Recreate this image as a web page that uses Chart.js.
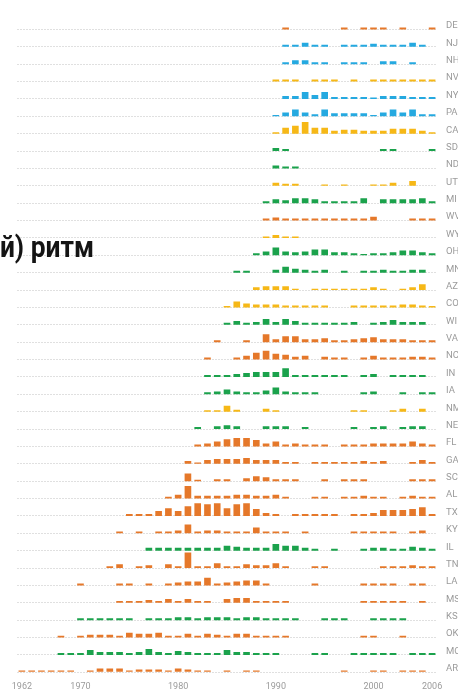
<!DOCTYPE html>
<html>
<head>
<meta charset="utf-8">
<script src="https://cdn.jsdelivr.net/npm/chart.js@4.4.1/dist/chart.umd.min.js"></script>
<style>
  html, body { margin: 0; padding: 0; background: #fff; }
  #wrap { width: 458px; height: 694px; position: relative; overflow: hidden; }
</style>
</head>
<body>
<div id="wrap"><canvas id="c"></canvas></div>
<script>
// ---- categories (visible year slots) ----
const firstYear = 1964, lastYear = 2006;
const years = [];
for (let y = firstYear; y <= lastYear; y++) years.push(y);

// x-axis tick labels as printed, and the slot each one sits under
const axisLabels = ['1962', '1970', '1980', '1990', '2000', '2006'];
const axisLabelSlots = [1964, 1970, 1980, 1990, 2000, 2006];

// title fragment visible in the crop
const titleText = 'й) ритм';

// rows, top to bottom
const states = ['DE','NJ','NH','NV','NY','PA','CA','SD','ND','UT','MI','WV','WY','OH','MN','AZ','CO','WI','VA','NC','IN','IA','NM','NE','FL','GA','SC','AL','TX','KY','IL','TN','LA','MS','KS','OK','MO','AR'];
const regionOf = {
  DE:'S', NJ:'NE', NH:'NE', NV:'W', NY:'NE', PA:'NE', CA:'W', SD:'MW', ND:'MW', UT:'W', MI:'MW', WV:'S', WY:'W',
  OH:'MW', MN:'MW', AZ:'W', CO:'W', WI:'MW', VA:'S', NC:'S', IN:'MW', IA:'MW', NM:'W', NE:'MW', FL:'S', GA:'S',
  SC:'S', AL:'S', TX:'S', KY:'S', IL:'MW', TN:'S', LA:'S', MS:'S', KS:'MW', OK:'S', MO:'MW', AR:'S'
};

// ---- values per state: [year, relative height] ----
const DE = [[1991,1],[1997,1],[1999,1],[2000,1],[2001,1],[2003,1],[2006,1]];
const NJ = [[1991,1],[1992,1],[1993,2],[1994,1],[1995,1],[1997,1],[1998,1],[1999,1],[2000,1.5],[2001,1],[2002,1],[2003,1],[2004,2],[2005,1]];
const NH = [[1991,1],[1992,2],[1993,2],[1994,1],[1995,1],[1997,1],[1998,1],[1999,1],[2001,1.5],[2002,1.5],[2004,1]];
const NV = [[1990,1],[1991,1],[1992,1],[1994,1],[1995,1],[1996,1],[1998,1],[2000,1],[2001,1],[2002,1],[2003,1],[2004,1],[2005,1],[2006,1]];
const NY = [[1991,1.5],[1992,1.5],[1993,3.5],[1994,2],[1995,3.5],[1996,1],[1997,1],[1998,1],[1999,1],[2000,0.7],[2001,1.5],[2002,1.5],[2003,1.5],[2004,1],[2005,1],[2006,1]];
const PA = [[1990,0.7],[1991,2],[1992,3.5],[1993,2],[1994,1],[1995,3.5],[1996,1.5],[1997,1.5],[1998,1.5],[1999,1.5],[2000,0.7],[2001,2],[2002,3.5],[2003,2],[2004,3.5],[2005,1],[2006,1]];
const CA = [[1990,0.7],[1991,3],[1992,4],[1993,6],[1994,3],[1995,3],[1996,1.5],[1997,2],[1998,2],[1999,1.5],[2000,1.5],[2001,1.5],[2002,2.5],[2003,2.5],[2004,2.5],[2005,1.5],[2006,0.7]];
const SD = [[1990,1.5],[1991,1],[2001,1],[2002,1],[2006,1]];
const ND = [[1990,1.5],[1991,1],[1992,1]];
const UT = [[1990,1.5],[1991,1],[1992,1],[1995,0.7],[1997,0.7],[2000,0.7],[2001,0.7],[2002,1.5],[2004,2.5]];
const MI = [[1989,1],[1990,2],[1991,1.5],[1992,2.5],[1993,2.5],[1994,2],[1995,1],[1996,1],[1997,1],[1998,1],[1999,2.5],[2001,2],[2002,2],[2003,2],[2004,2],[2005,2.5],[2006,1]];
const WV = [[1989,1],[1990,1.5],[1991,1],[1992,1],[1993,1],[1994,1],[1995,1],[1996,1],[1997,1],[1998,1],[1999,1],[2000,2],[2004,1],[2005,1],[2006,1]];
const WY = [[1989,0.7],[1990,1.5],[1991,0.7],[1992,0.7]];
const OH = [[1988,1],[1989,2],[1990,4],[1991,2],[1992,1.5],[1993,2],[1994,3],[1995,3],[1996,1.5],[1997,1.5],[1998,1],[1999,0.7],[2000,1],[2001,1],[2002,1.5],[2003,2.5],[2004,2.5],[2005,1.5],[2006,1]];
const MN = [[1986,1],[1987,1],[1990,1.5],[1991,3],[1992,2],[1993,1.5],[1994,1],[1995,1.5],[1997,1],[1999,1],[2000,1],[2001,1.5],[2002,1],[2003,1],[2004,1.5],[2005,1.5]];
const AZ = [[1988,1.5],[1989,2],[1990,2],[1991,2],[1992,0.7],[1994,0.7],[1995,0.7],[1996,0.7],[1997,0.7],[1998,0.7],[1999,0.7],[2000,1.5],[2001,0.7],[2003,0.7],[2004,1.5],[2005,3]];
const CO = [[1985,0.7],[1986,3],[1987,2],[1988,1.5],[1989,1.5],[1990,1.5],[1991,1],[1992,1],[1993,1],[1994,1],[1995,1],[1998,1],[1999,1],[2000,1],[2001,1],[2002,1],[2003,1.5],[2004,1.5],[2005,1],[2006,0.7]];
const WI = [[1985,1],[1986,2],[1987,1],[1988,1.5],[1989,3],[1990,1.5],[1991,3],[1992,2],[1993,1],[1994,1],[1995,1],[1996,1],[1997,1],[1998,1.5],[2000,1],[2001,1.5],[2002,2.5],[2003,1.5],[2004,1.5],[2005,1.5]];
const VA = [[1984,1],[1987,1],[1989,4],[1990,1.5],[1991,3],[1992,3],[1993,1.5],[1994,1.5],[1995,2],[1996,1],[1997,1],[1998,1.5],[1999,2],[2000,2.5],[2001,1.5],[2002,1.5],[2003,1.5],[2004,1],[2005,1],[2006,1]];
const NC = [[1983,1],[1986,1],[1987,2],[1988,3.5],[1989,4.5],[1990,3],[1991,2.5],[1992,1.5],[1993,2],[1995,1.5],[1996,1],[1997,1],[1999,1],[2000,2],[2001,1],[2002,1],[2003,1],[2004,1.5],[2005,1.5],[2006,1]];
const IN = [[1983,1],[1984,1],[1985,1],[1986,1.5],[1987,2],[1988,2.5],[1989,2.5],[1990,2.5],[1991,4.5],[1992,1],[1993,1],[1994,1],[1995,1],[1996,1],[1997,1],[1999,1],[2000,1.5],[2002,1],[2003,1],[2004,1],[2005,1]];
const IA = [[1983,1],[1984,1.5],[1985,2.5],[1986,1.5],[1987,1],[1988,1],[1989,2],[1990,3.5],[1991,1.5],[1992,1],[1993,1],[1994,1],[1999,1],[2000,1.5],[2003,1],[2005,1],[2006,1]];
const NM = [[1983,0.7],[1984,0.7],[1985,3],[1986,1],[1989,1.5],[1990,0.7],[1998,0.7],[1999,0.7],[2002,0.7],[2003,1.5],[2005,1.5]];
const NE = [[1982,1],[1984,1.5],[1985,2],[1986,1.5],[1989,1.5],[1990,1.5],[1991,1.5],[1993,1],[1998,1],[2000,1],[2001,1.5],[2003,1],[2004,1.5],[2005,1.5]];
const FL = [[1982,1],[1983,1.5],[1984,2.5],[1985,3.7],[1986,4.3],[1987,4.3],[1988,3.3],[1989,1.5],[1990,2.5],[1991,1],[1992,1.5],[1993,1],[1994,1],[1995,1],[1997,1],[1998,1],[1999,1],[2000,1.5],[2001,1.5],[2002,1.5],[2003,1.5],[2004,2.5],[2005,1.5],[2006,1]];
const GA = [[1981,1.5],[1982,0.7],[1983,2],[1984,2.5],[1985,2.5],[1986,2.5],[1987,3],[1988,2],[1989,2],[1990,2],[1991,1],[1992,1],[1994,1],[1995,1],[1996,1],[1997,1],[1998,1],[1999,1.5],[2000,1],[2001,1.5],[2004,1],[2005,2],[2006,1]];
const SC = [[1981,4],[1982,0.7],[1984,1],[1985,1],[1987,1.5],[1988,2.5],[1989,2],[1990,1],[1991,1],[1992,1],[1995,1],[1997,1],[1998,1],[1999,1],[2004,1],[2005,1],[2006,1]];
const AL = [[1979,1],[1980,2],[1981,6.5],[1982,1.5],[1983,1.5],[1984,1.5],[1985,1.5],[1986,2],[1987,2],[1988,1.5],[1989,1.5],[1990,2],[1991,1],[1994,1],[1995,1],[1997,1],[1998,1],[1999,1.5],[2000,1],[2001,1],[2003,1],[2004,1.5],[2005,1],[2006,1]];
const TX = [[1975,1],[1976,1],[1977,1],[1978,2.5],[1979,4],[1980,2.5],[1981,5],[1982,6.5],[1983,6],[1984,6.5],[1985,4],[1986,6],[1987,6.5],[1988,3.5],[1989,1.5],[1990,1],[1992,1],[1993,1],[1994,1],[1995,1],[1996,1],[1998,1],[1999,1],[2000,1.5],[2001,3],[2002,3],[2003,3],[2004,3.5],[2005,4.5],[2006,1]];
const KY = [[1974,1],[1976,1],[1978,1],[1979,1],[1980,1.5],[1981,4.5],[1982,1],[1983,1.5],[1984,1.5],[1985,1],[1986,1],[1987,1],[1988,3],[1989,1],[1990,1],[1991,1],[1993,1],[1998,1],[1999,1],[2000,1],[2001,1],[2002,1],[2004,1],[2005,1.5]];
const IL = [[1977,1.5],[1978,1.5],[1979,1.5],[1980,1.5],[1981,1.5],[1982,1.5],[1983,1.5],[1984,1.5],[1985,2.5],[1986,2],[1987,1.5],[1988,1.5],[1989,1.5],[1990,3.5],[1991,2.5],[1992,2.5],[1993,1.5],[1994,1],[1996,1],[1999,1],[2000,1.5],[2001,1.5],[2002,1],[2003,1],[2004,2],[2005,1.5],[2006,1]];
const TN = [[1973,1],[1974,2],[1976,1],[1977,1.5],[1979,2],[1980,1],[1981,8],[1982,1],[1983,1],[1984,2.5],[1985,1],[1986,1],[1987,2],[1988,1.5],[1989,1.5],[1990,2.5],[1991,1],[1994,1],[1995,1],[2001,1],[2002,1],[2003,1],[2004,1.5],[2005,1],[2006,1]];
const LA = [[1970,1],[1974,1],[1975,1],[1977,1],[1979,1],[1980,1.5],[1981,2],[1982,2],[1983,4],[1984,1],[1985,1.5],[1986,2],[1987,2.5],[1988,2.5],[1989,1],[1994,1],[1999,1],[2000,1],[2001,1],[2002,1],[2004,1],[2005,1]];
const MS = [[1974,1],[1975,1],[1976,1],[1977,1.5],[1978,1],[1979,2],[1980,1],[1981,2],[1982,1],[1983,1],[1985,2],[1986,2.5],[1987,2.5],[1988,1],[1989,1],[1990,1],[1991,1],[1999,1],[2000,1],[2001,1],[2002,1],[2003,1],[2005,1]];
const KS = [[1970,1],[1971,1],[1972,1],[1973,1],[1974,1],[1975,1],[1977,1],[1978,1],[1979,1],[1980,1.5],[1981,1.5],[1982,1],[1983,1.5],[1984,1.5],[1985,1.5],[1986,1],[1987,1.5],[1988,1.5],[1989,1],[1990,1],[1991,1],[1992,1],[1995,1],[1996,1],[1997,1],[2000,1],[2001,1],[2002,1],[2003,1]];
const OK = [[1968,1],[1970,1],[1971,1.5],[1972,1.5],[1973,1.5],[1974,1],[1975,2.5],[1976,2],[1977,2],[1978,2.5],[1979,1],[1980,1],[1981,2],[1982,1],[1983,2],[1984,1.5],[1985,1],[1986,2],[1987,2],[1988,1],[1989,1],[1990,1],[1991,1],[1999,1],[2000,1],[2003,1]];
const MO = [[1968,1],[1969,1],[1970,1],[1971,2.5],[1972,1.5],[1973,1.5],[1974,1.5],[1975,1],[1976,1.5],[1977,3],[1978,1.5],[1979,1],[1980,2],[1981,1.5],[1982,1],[1983,1],[1984,1],[1985,2.5],[1986,1.5],[1987,1.5],[1988,1],[1989,1],[1990,1],[1994,1],[1995,1],[1998,1],[1999,1],[2000,1],[2001,1],[2002,1],[2004,1],[2005,1],[2006,1]];
const AR = [[1964,1],[1965,1],[1966,1],[1967,1],[1968,1],[1969,1],[1971,1],[1972,2],[1973,2],[1974,2],[1975,1],[1976,1.5],[1977,1.5],[1978,1.5],[1979,1],[1980,2],[1981,1.5],[1982,1],[1983,1],[1985,1],[1987,1],[1988,1],[1997,1],[2000,1],[2001,1],[2003,1],[2004,1],[2005,1]];

const seriesByState = {DE,NJ,NH,NV,NY,PA,CA,SD,ND,UT,MI,WV,WY,OH,MN,AZ,CO,WI,VA,NC,IN,IA,NM,NE,FL,GA,SC,AL,TX,KY,IL,TN,LA,MS,KS,OK,MO,AR};

// ---- styling / layout (not data) ----
const regionColor = { S:'#E5782A', NE:'#25A9E0', W:'#F6B817', MW:'#1BA24C' };
const ROW = 8.89;               // vertical spacing between row baselines, in value units
const N = states.length;
const rowBase = i => (N - 1 - i) * ROW;

const datasets = states.map((st, i) => {
  const base = rowBase(i);
  const data = years.map(() => null);
  seriesByState[st].forEach(([yr, v]) => {
    const k = years.indexOf(yr);
    if (k >= 0) data[k] = [base, base + v];
  });
  return {
    label: st,
    data,
    backgroundColor: regionColor[regionOf[st]],
    borderWidth: 0,
    grouped: false,
    barPercentage: 0.68,
    categoryPercentage: 1
  };
});

const titlePlugin = {
  id: 'titleFrag',
  afterDraw(chart) {
    const ctx = chart.ctx;
    ctx.save();
    ctx.font = 'bold 30px Roboto';
    ctx.fillStyle = '#141414';
    ctx.textBaseline = 'alphabetic';
    const sx = 0.88;
    const w = ctx.measureText(titleText).width * sx;
    ctx.translate(94 - w, 257);
    ctx.scale(sx, 1);
    ctx.fillText(titleText, 0, 0);
    ctx.restore();
  }
};

new Chart(document.getElementById('c'), {
  type: 'bar',
  data: { labels: years.map(String), datasets },
  plugins: [titlePlugin],
  options: {
    responsive: true,
    maintainAspectRatio: false,
    animation: false,
    layout: { padding: { left: 17, top: 0, right: 0, bottom: 0 } },
    plugins: { legend: { display: false }, tooltip: { enabled: false } },
    scales: {
      x: {
        type: 'category',
        offset: true,
        grid: { display: false, drawTicks: false },
        border: { display: false },
        afterFit: s => { s.height = 14; },
        afterBuildTicks: s => {
          s.ticks = s.ticks.filter(t => axisLabelSlots.includes(years[t.value]));
        },
        ticks: {
          autoSkip: false, maxRotation: 0, minRotation: 0, padding: 2,
          color: '#9b9b9b',
          font: { family: 'Roboto', size: 9 },
          callback: v => {
            const j = axisLabelSlots.indexOf(years[v]);
            return j >= 0 ? axisLabels[j] : '';
          }
        }
      },
      y: {
        type: 'linear',
        position: 'right',
        min: -3.55,
        max: 336.45,
        afterFit: s => { s.width = 21; },
        afterBuildTicks: s => { s.ticks = states.map((st, i) => ({ value: rowBase(i) })); },
        grid: { color: '#e0e0e0', lineWidth: 1, drawTicks: false },
        border: { display: false, dash: [2, 1] },
        ticks: {
          autoSkip: false, padding: 9, labelOffset: -3.5,
          color: '#9b9b9b',
          font: { family: 'Roboto', size: 9.5 },
          callback: v => states[N - 1 - Math.round(v / ROW)]
        }
      }
    }
  }
});
</script>
</body>
</html>
